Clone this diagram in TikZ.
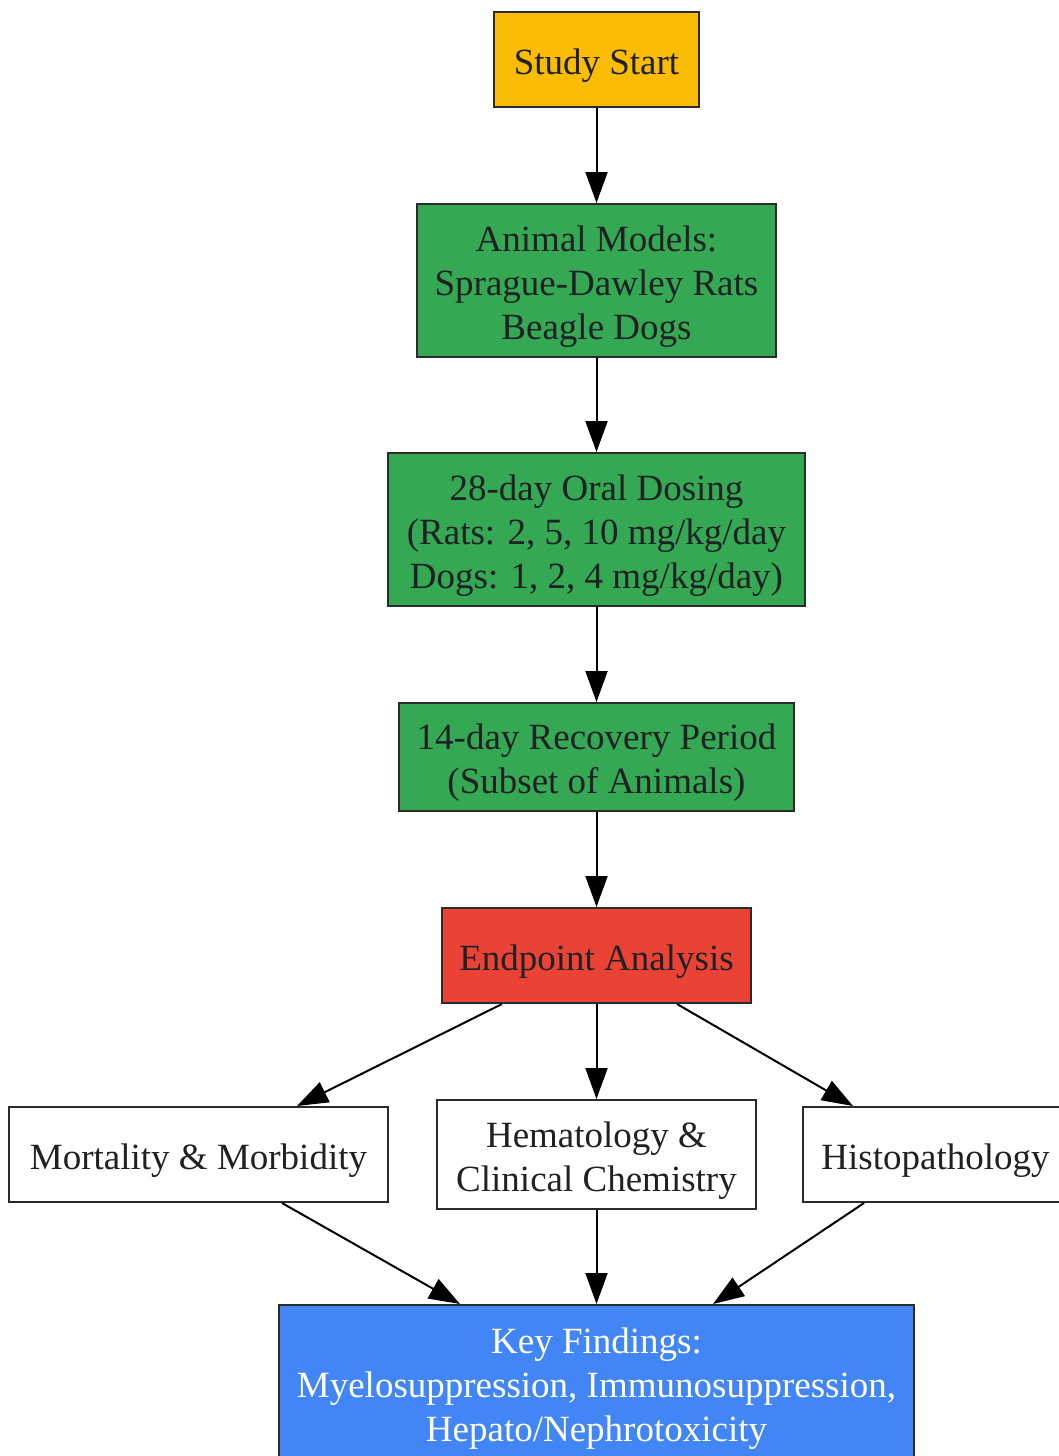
\documentclass[tikz,border=0pt]{standalone}
\usepackage{fontspec}
\setmainfont{Liberation Serif}
\usetikzlibrary{arrows.meta, positioning}
\usepackage{xcolor}
\definecolor{startyellow}{HTML}{FBBC05}
\definecolor{stepgreen}{HTML}{34A853}
\definecolor{endred}{HTML}{EA4335}
\definecolor{findblue}{HTML}{4285F4}
\definecolor{boxline}{HTML}{2B2B2B}
\definecolor{boxtext}{HTML}{202124}

\begin{document}
\begin{tikzpicture}[x=0.5pt,y=-0.5pt,->,>={Triangle[length=15.5pt,width=11pt]},line width=1pt]
    \tikzstyle{box}=[rectangle, draw=boxline, line width=1pt, text=boxtext, align=center, inner sep=0pt, font=\fontsize{18.5}{22}\selectfont, text depth=4pt]
    \tikzstyle{one line}=[text height=18.5pt];
    \tikzstyle{two lines}=[text height=40.5pt];
    \tikzstyle{three lines}=[text height=62.5pt];
    \tikzstyle{start box}=[box, fill=startyellow];
    \tikzstyle{stage box}=[box, fill=stepgreen];
    \tikzstyle{analysis box}=[box, fill=endred];
    \tikzstyle{endpoint box}=[box, fill=white];
    \tikzstyle{finding box}=[box, fill=findblue, text=white];

    \useasboundingbox (0,0) rectangle (1059,1456);
    \clip (0,0) rectangle (1059,1456);

    % Main study flow
    \node[start box, one line, minimum width=102.5pt, minimum height=47.5pt] (start) at (596.5,59.5) {Study Start};
    \node[stage box, three lines, minimum width=179.5pt, minimum height=76.5pt] (models) at (596.5,280.5) {Animal Models:\\Sprague-Dawley Rats\\Beagle Dogs};
    \node[stage box, three lines, minimum width=208.5pt, minimum height=76.5pt] (dosing) at (596.5,529.5) {28-day Oral Dosing\\(Rats: 2, 5, 10 mg/kg/day\\Dogs: 1, 2, 4 mg/kg/day)};
    \node[stage box, two lines, minimum width=197.5pt, minimum height=54pt] (recovery) at (596.5,757) {14-day Recovery Period\\(Subset of Animals)};
    \node[analysis box, one line, minimum width=154.5pt, minimum height=47.5pt] (endpoint) at (596.5,955.5) {Endpoint Analysis};

    % Endpoints
    \node[endpoint box, one line, minimum width=189.5pt, minimum height=47.5pt] (mort) at (198.5,1154.5) {Mortality \& Morbidity};
    \node[endpoint box, two lines, minimum width=159.5pt, minimum height=54.5pt] (hema) at (596.5,1154.5) {Hematology \&\\Clinical Chemistry};
    \node[endpoint box, one line, minimum width=132.5pt, minimum height=47.5pt] (histo) at (935.5,1154.5) {Histopathology};

    \node[finding box, three lines, minimum width=317.5pt, minimum height=78pt] (key) at (596.5,1383) {Key Findings:\\Myelosuppression, Immunosuppression,\\Hepato/Nephrotoxicity};

    \foreach \source/\dest in {start/models, models/dosing, dosing/recovery, recovery/endpoint, endpoint/hema, hema/key}
        \draw (\source) -- (\dest);

    \draw ([xshift=-47.25pt]endpoint.south) -- ([xshift=49.25pt]mort.north);
    \draw ([xshift=40.25pt]endpoint.south) -- ([xshift=-41.25pt]histo.north);
    \draw ([xshift=41.75pt]mort.south) -- ([xshift=-68.25pt]key.north);
    \draw ([xshift=-35.75pt]histo.south) -- ([xshift=58.25pt]key.north);
\end{tikzpicture}
\end{document}
